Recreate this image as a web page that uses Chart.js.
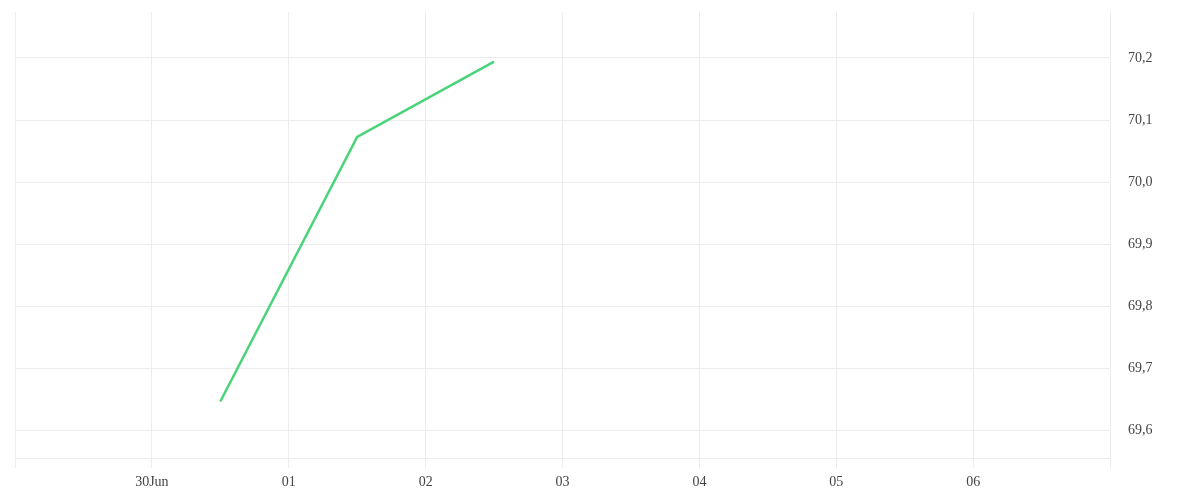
<!DOCTYPE html>
<html lang="en">
<head>
  <meta charset="UTF-8" />
  <title>Line chart</title>
  <style>
    html, body { margin: 0; padding: 0; background: #fff; }
    #wrap { width: 1200px; height: 500px; }
  </style>
</head>
<body>
  <div id="wrap"><canvas id="chart" width="1200" height="500"></canvas></div>

  <script src="https://cdn.jsdelivr.net/npm/chart.js"></script>
  <script>
    // day offsets from 29 Jun (0) to 07 Jul (8)
    const dayTicks = [0, 1, 2, 3, 4, 5, 6, 7, 8];
    const dayLabels = ['', '30Jun', '01', '02', '03', '04', '05', '06', ''];

    const pointDays = [1.5, 2.5, 3.5];
    const pointValues = [69.647, 70.073, 70.194];

    const yTicks = [69.6, 69.7, 69.8, 69.9, 70.0, 70.1, 70.2];
    const yMin = 69.556;
    const yMax = 70.274;

    const gridColor = '#ececec';
    const tickFont = { family: '"Liberation Serif", serif', size: 14 };

    window.onload = () => {
      const ctx = document.getElementById('chart').getContext('2d');
      new Chart(ctx, {
        type: 'line',
        data: {
          datasets: [{
            data: pointDays.map((d, i) => ({ x: d, y: pointValues[i] })),
            borderColor: '#4ad479',
            borderWidth: 2.5,
            pointRadius: 0,
            fill: false,
            tension: 0
          }]
        },
        options: {
          responsive: false,
          animation: false,
          layout: { padding: { left: 15, top: 12, right: 0, bottom: 0 } },
          plugins: { legend: { display: false }, tooltip: { enabled: false } },
          scales: {
            x: {
              type: 'linear',
              min: 0,
              max: 8,
              afterBuildTicks: scale => { scale.ticks = dayTicks.map(v => ({ value: v })); },
              afterFit: scale => {
                scale.height = 42;
                scale.paddingLeft = 0;
                scale.paddingRight = 0;
              },
              grid: { color: gridColor, tickLength: 10, drawOnChartArea: true },
              border: { color: gridColor },
              ticks: {
                color: '#444',
                font: tickFont,
                padding: 6,
                maxRotation: 0,
                autoSkip: false,
                callback: (v, i) => dayLabels[i]
              }
            },
            y: {
              position: 'right',
              min: yMin,
              max: yMax,
              afterBuildTicks: scale => { scale.ticks = yTicks.map(v => ({ value: v })); },
              afterFit: scale => {
                scale.width = 90;
                scale.paddingTop = 0;
                scale.paddingBottom = 0;
              },
              grid: { color: gridColor, drawTicks: false },
              border: { color: gridColor },
              ticks: {
                color: '#444',
                font: tickFont,
                padding: 18,
                callback: v => v.toFixed(1).replace('.', ',')
              }
            }
          }
        }
      });
    };
  </script>
</body>
</html>
